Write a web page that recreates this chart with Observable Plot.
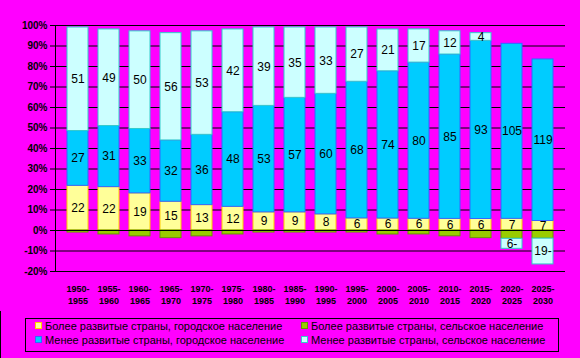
<!DOCTYPE html>
<html>
<head>
<meta charset="utf-8">
<script src="https://cdn.jsdelivr.net/npm/d3@7"></script>
<script src="https://cdn.jsdelivr.net/npm/@observablehq/plot@0.6"></script>
<style>
  html, body { margin: 0; padding: 0; background: #FF00FF; }
  #wrap { position: relative; width: 580px; height: 358px; background: #FF00FF; overflow: hidden;
          box-shadow: inset 1px 2px 0 #000; font-family: "Liberation Sans", Arial, sans-serif; }
  #chart svg { display: block; }
  #legend { position: absolute; left: 25px; top: 318px; width: 532px; height: 32px; border: 1px solid #000; }
  .item { position: absolute; font-size: 11px; line-height: 13px; color: #000; white-space: nowrap; }
  .sw { display: inline-block; width: 5px; height: 5px; border: 1px solid; margin-right: 3px; vertical-align: 1px; }
</style>
</head>
<body>
<div id="wrap">
  <div id="chart"></div>
  <div id="legend"></div>
</div>
<script>
const periods = ["1950-1955","1955-1960","1960-1965","1965-1970","1970-1975","1975-1980","1980-1985","1985-1990",
                 "1990-1995","1995-2000","2000-2005","2005-2010","2010-2015","2015-2020","2020-2025","2025-2030"];
const devUrban  = [22,22,19,15,13,12,9,9,8,6,6,6,6,6,7,7];
const devRural  = [-1,-2,-3,-4,-3,-2,-1,-1,-1,-1,-2,-2,-3,-4,-5,-6];
const lessUrban = [27,31,33,32,36,48,53,57,60,68,74,80,85,93,105,119];
const lessRural = [51,49,50,56,53,42,39,35,33,27,21,17,12,4,-6,-19];

const seriesNames = [
  "Более развитые страны, городское население",
  "Более развитые страны, сельское население",
  "Менее развитые страны, городское население",
  "Менее развитые страны, сельское население"
];
const seriesValues = [devUrban, devRural, lessUrban, lessRural];
const fills   = ["#FFFF99", "#99CC00", "#00CCFF", "#CCFFFF"];
const strokes = ["#FFCC00", "#669900", "#3366FF", "#33CCCC"];
const showLabel = [true, false, true, true];

// 100% stacked: each segment is |value| / sum of |values| in its period
const rows = [];
periods.forEach((p, i) => {
  const total = d3.sum(seriesValues, s => Math.abs(s[i]));
  seriesValues.forEach((s, k) => {
    const v = s[i];
    rows.push({
      period: p,
      series: seriesNames[k],
      value: v,
      share: v / total * 100,
      fill: fills[k],
      stroke: strokes[k],
      label: showLabel[k] ? (v < 0 ? `${-v}-` : `${v}`) : ""
    });
  });
});

const yTicks = d3.range(-20, 101, 10);

const chart = Plot.plot({
  width: 580,
  height: 311,
  marginLeft: 55,
  marginRight: 15,
  marginTop: 25,
  marginBottom: 40,
  style: { background: "#FF00FF", fontFamily: "Liberation Sans, Arial, sans-serif", color: "black" },
  x: { domain: periods, paddingInner: 0.31, paddingOuter: 0.155, label: null },
  y: { domain: [-20, 100], label: null },
  color: { type: "identity" },
  marks: [
    Plot.gridY(yTicks, { stroke: "black", strokeOpacity: 1 }),
    Plot.axisY(yTicks, { tickFormat: d => d + "%", tickSize: 5, tickPadding: 3, fontSize: 10, fontWeight: "bold", label: null }),
    Plot.axisX({ tickSize: 0, tickPadding: 12, fontSize: 9, fontWeight: "bold", lineHeight: 1.35,
                 tickFormat: p => p.replace("-", "-\n"), label: null }),
    Plot.frame({ anchor: "left", stroke: "black" }),
    Plot.barY(rows, Plot.stackY({ x: "period", y: "share", fill: "fill", stroke: "stroke", strokeWidth: 1 })),
    Plot.ruleY([0], { stroke: "black" }),
    Plot.text(rows, Plot.stackY({ x: "period", y: "share", text: "label", fontSize: 12, fill: "black" }))
  ]
});
document.getElementById("chart").appendChild(chart);

// legend
const legend = document.getElementById("legend");
const pos = [[9, 1], [275, 1], [9, 15], [275, 15]];
seriesNames.forEach((name, k) => {
  const it = document.createElement("div");
  it.className = "item";
  it.style.left = pos[k][0] + "px";
  it.style.top = pos[k][1] + "px";
  it.innerHTML = `<span class="sw" style="background:${fills[k]};border-color:${strokes[k]}"></span>${name}`;
  legend.appendChild(it);
});
</script>
</body>
</html>
